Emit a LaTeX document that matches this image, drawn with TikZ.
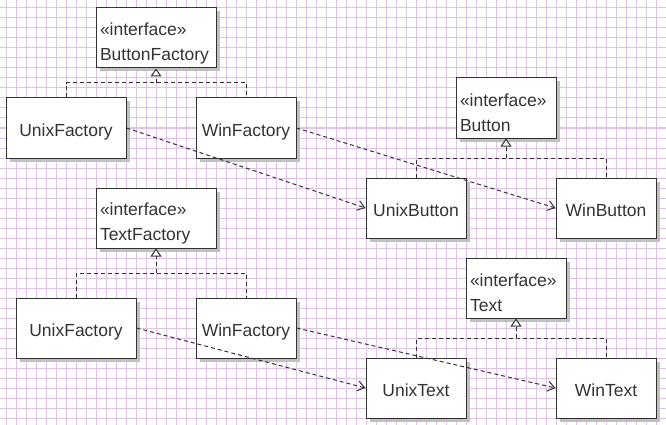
\documentclass[tikz,border=0pt]{standalone}
\usepackage{fontspec}
\setmainfont{Liberation Sans}
\usetikzlibrary{arrows.meta,shadows}
\definecolor{gridpink}{RGB}{224,194,230}
\definecolor{boxshade}{RGB}{192,192,192}
\begin{document}
\begin{tikzpicture}[x=1pt, y=-1pt,
        cls/.style={draw=black!80, line width=1pt, fill=white, text=black!80,
            minimum height=60pt, inner sep=0pt, text height=21pt, text depth=4pt,
            font=\fontsize{17.5pt}{25pt}\selectfont,
            general shadow={fill=boxshade, shadow xshift=3.5pt, shadow yshift=-3.5pt}},
        iface/.style={cls, align=left, inner xsep=4pt, text height=23pt, text depth=},
        realize/.style={draw=black!80, line width=1pt, dash pattern=on 4pt off 3pt,
            -{Triangle[length=8pt, width=11pt, fill=white]}},
        link/.style={draw=black!80, line width=1pt, dash pattern=on 4pt off 3pt},
        depend/.style={link, -{Straight Barb[length=7pt, width=10pt]}}]
    \useasboundingbox (0,0) rectangle (666,425);
    \fill[white] (0,0) rectangle (666,425);
    \foreach \gx in {6,16,...,666}
        \draw[gridpink, line width=1pt] (\gx,0) -- (\gx,425);
    \foreach \gy in {8,18,...,425}
        \draw[gridpink, line width=1pt] (0,\gy) -- (666,\gy);
    % button family
    \node[iface, text width=112pt] (bf) at (156,38) {«interface»\\ButtonFactory};
    \node[cls, minimum width=120pt] (unixf) at (66,128) {UnixFactory};
    \node[cls, minimum width=100pt] (winf) at (246,128) {WinFactory};
    \node[iface, text width=92pt] (btn) at (506,108) {«interface»\\Button};
    \node[cls, minimum width=100pt] (unixb) at (416,208) {UnixButton};
    \node[cls, minimum width=100pt] (winb) at (606,208) {WinButton};
    % text family
    \node[iface, text width=112pt] (tf) at (156,218) {«interface»\\TextFactory};
    \node[cls, minimum width=120pt] (unixtf) at (76,328) {UnixFactory};
    \node[cls, minimum width=100pt] (wintf) at (246,328) {WinFactory};
    \node[iface, text width=92pt] (txt) at (516,288) {«interface»\\Text};
    \node[cls, minimum width=100pt] (unixt) at (416,388) {UnixText};
    \node[cls, minimum width=100pt] (wint) at (606,388) {WinText};
    % realizations
    \coordinate (bfjoin) at (156,83);
    \coordinate (btnjoin) at (506,158);
    \coordinate (tfjoin) at (156,273);
    \coordinate (txtjoin) at (516,338);
    \draw[link] (unixf.north) |- (bfjoin) -| (winf.north);
    \draw[realize] (bfjoin) -- (bf.south);
    \draw[link] (unixb.north) |- (btnjoin) -| (winb.north);
    \draw[realize] (btnjoin) -- (btn.south);
    \draw[link] (unixtf.north) |- (tfjoin) -| (wintf.north);
    \draw[realize] (tfjoin) -- (tf.south);
    \draw[link] (unixt.north) |- (txtjoin) -| (wint.north);
    \draw[realize] (txtjoin) -- (txt.south);
    % dependencies
    \draw[depend] (unixf.east) -- (unixb.west);
    \draw[depend] (winf.east) -- (winb.west);
    \draw[depend] (unixtf.east) -- (unixt.west);
    \draw[depend] (wintf.east) -- (wint.west);
\end{tikzpicture}
\end{document}
